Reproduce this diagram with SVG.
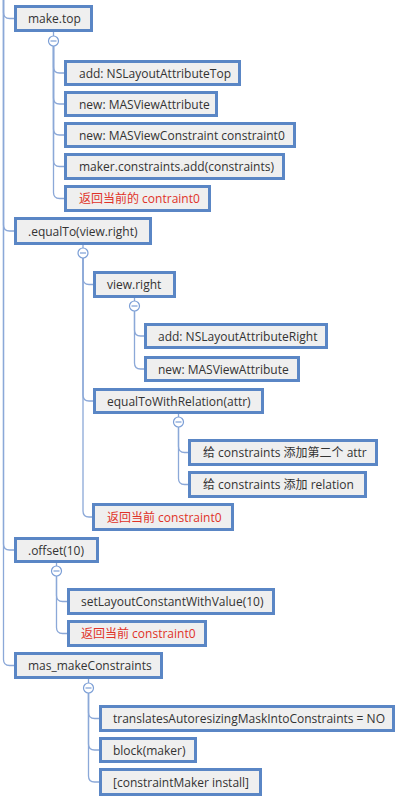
<svg xmlns="http://www.w3.org/2000/svg" width="400" height="799" viewBox="0 0 400 799">
<style>
.box{fill:#efefef;stroke:#5a86c5;stroke-width:3}
.t{font-family:"Open Sans","Noto Sans CJK SC",sans-serif;font-size:12px;fill:#333}
.r{fill:#e03228}
.c{fill:none;stroke:#8ba8d8;stroke-width:1.3}
.k{fill:#fff;stroke:#7c9fd6;stroke-width:1.2}
.m{stroke:#7c9fd6;stroke-width:1.2}
</style>
<rect width="400" height="799" fill="#fff"/>
<g id="connectors">
<path class="c" d="M3.5,0 V12.5 Q3.5,18.5 9.5,18.5 H14"/>
<path class="c" d="M3.5,0 V225 Q3.5,231 9.5,231 H14"/>
<path class="c" d="M3.5,0 V544 Q3.5,550 9.5,550 H14"/>
<path class="c" d="M3.5,0 V659.5 Q3.5,665.5 9.5,665.5 H14"/>
<path class="c" d="M53.5,32 V36"/>
<path class="c" d="M53.5,46 V67 Q53.5,73 59.5,73 H64"/>
<path class="c" d="M53.5,46 V98 Q53.5,104 59.5,104 H64"/>
<path class="c" d="M53.5,46 V129 Q53.5,135 59.5,135 H64"/>
<path class="c" d="M53.5,46 V160.5 Q53.5,166.5 59.5,166.5 H64"/>
<path class="c" d="M53.5,46 V192.5 Q53.5,198.5 59.5,198.5 H64"/>
<path class="c" d="M83,245 V248"/>
<path class="c" d="M83,258 V278.5 Q83,284.5 89,284.5 H93"/>
<path class="c" d="M83,258 V395 Q83,401 89,401 H93"/>
<path class="c" d="M83,258 V511 Q83,517 89,517 H92"/>
<path class="c" d="M134.5,298 V301"/>
<path class="c" d="M134.5,311 V330 Q134.5,336 140.5,336 H144"/>
<path class="c" d="M134.5,311 V363 Q134.5,369 140.5,369 H144"/>
<path class="c" d="M178.5,414 V417"/>
<path class="c" d="M178.5,427 V446.5 Q178.5,452.5 184.5,452.5 H188"/>
<path class="c" d="M178.5,427 V478.5 Q178.5,484.5 184.5,484.5 H188"/>
<path class="c" d="M56.5,563 V566"/>
<path class="c" d="M56.5,576 V595.5 Q56.5,601.5 62.5,601.5 H67"/>
<path class="c" d="M56.5,576 V627.5 Q56.5,633.5 62.5,633.5 H67"/>
<path class="c" d="M88.5,679 V683"/>
<path class="c" d="M88.5,693 V712.5 Q88.5,718.5 94.5,718.5 H99"/>
<path class="c" d="M88.5,693 V744 Q88.5,750 94.5,750 H99"/>
<path class="c" d="M88.5,693 V776 Q88.5,782 94.5,782 H99"/>
</g>
<g id="toggles">
<circle class="k" cx="53.5" cy="41" r="5"/><path class="m" d="M50.5,41 H56.5"/>
<circle class="k" cx="83" cy="253" r="5"/><path class="m" d="M80,253 H86"/>
<circle class="k" cx="134.5" cy="306" r="5"/><path class="m" d="M131.5,306 H137.5"/>
<circle class="k" cx="178.5" cy="422" r="5"/><path class="m" d="M175.5,422 H181.5"/>
<circle class="k" cx="56.5" cy="571" r="5"/><path class="m" d="M53.5,571 H59.5"/>
<circle class="k" cx="88.5" cy="688" r="5"/><path class="m" d="M85.5,688 H91.5"/>
</g>
<g id="n1"><rect class="box" x="15.5" y="6.5" width="76" height="24"/><text class="t" x="28" y="23">make.top</text></g>
<g id="n2"><rect class="box" x="65.5" y="61.5" width="174" height="23"/><text class="t" x="79" y="77.5">add: NSLayoutAttributeTop</text></g>
<g id="n3"><rect class="box" x="65.5" y="92.5" width="151" height="23"/><text class="t" x="79" y="108.5">new: MASViewAttribute</text></g>
<g id="n4"><rect class="box" x="65.5" y="123.5" width="229" height="23"/><text class="t" x="79" y="139.5">new: MASViewConstraint constraint0</text></g>
<g id="n5"><rect class="box" x="65.5" y="154.5" width="218" height="24"/><text class="t" x="79" y="171">maker.constraints.add(constraints)</text></g>
<g id="n6"><rect class="box" x="65.5" y="186.5" width="144" height="24"/><text class="t r" x="79" y="203">返回当前的 contraint0</text></g>
<g id="n7"><rect class="box" x="15.5" y="218.5" width="135" height="25"/><text class="t" x="28" y="235.5">.equalTo(view.right)</text></g>
<g id="n8"><rect class="box" x="94.5" y="272.5" width="80" height="24"/><text class="t" x="107" y="289">view.right</text></g>
<g id="n9"><rect class="box" x="145.5" y="324.5" width="181" height="23"/><text class="t" x="158" y="340.5">add: NSLayoutAttributeRight</text></g>
<g id="n10"><rect class="box" x="145.5" y="357.5" width="153" height="23"/><text class="t" x="158" y="373.5">new: MASViewAttribute</text></g>
<g id="n11"><rect class="box" x="94.5" y="389.5" width="168" height="23"/><text class="t" x="107" y="405.5">equalToWithRelation(attr)</text></g>
<g id="n12"><rect class="box" x="189.5" y="440.5" width="187" height="24"/><text class="t" x="203" y="457">给 constraints 添加第二个 attr</text></g>
<g id="n13"><rect class="box" x="189.5" y="472.5" width="176" height="24"/><text class="t" x="203" y="489">给 constraints 添加 relation</text></g>
<g id="n14"><rect class="box" x="93.5" y="504.5" width="139" height="25"/><text class="t r" x="107" y="521.5">返回当前 constraint0</text></g>
<g id="n15"><rect class="box" x="15.5" y="538.5" width="82" height="23"/><text class="t" x="28" y="554.5">.offset(10)</text></g>
<g id="n16"><rect class="box" x="68.5" y="589.5" width="205" height="24"/><text class="t" x="81" y="606">setLayoutConstantWithValue(10)</text></g>
<g id="n17"><rect class="box" x="68.5" y="621.5" width="137" height="24"/><text class="t r" x="81" y="638">返回当前 constraint0</text></g>
<g id="n18"><rect class="box" x="15.5" y="653.5" width="146" height="24"/><text class="t" x="28" y="670">mas_makeConstraints</text></g>
<g id="n19"><rect class="box" x="100.5" y="706.5" width="293" height="24"/><text class="t" x="113" y="723">translatesAutoresizingMaskIntoConstraints = NO</text></g>
<g id="n20"><rect class="box" x="100.5" y="738.5" width="95" height="23"/><text class="t" x="113" y="754.5">block(maker)</text></g>
<g id="n21"><rect class="box" x="100.5" y="769.5" width="160" height="25"/><text class="t" x="113" y="786.5">[constraintMaker install]</text></g>
</svg>
